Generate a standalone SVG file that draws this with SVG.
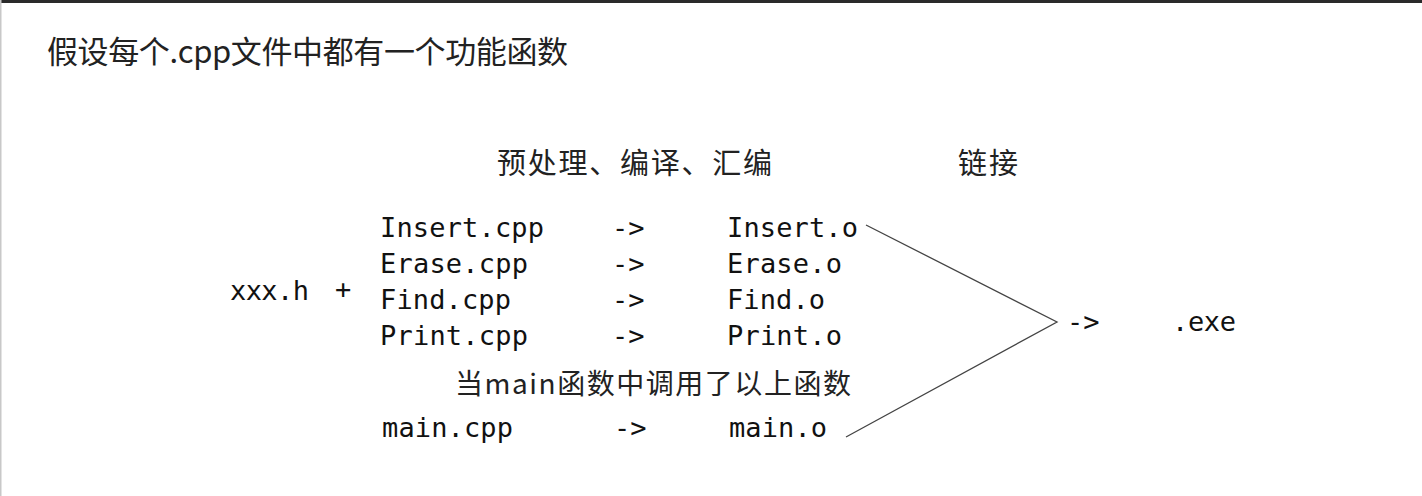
<svg xmlns="http://www.w3.org/2000/svg" width="1422" height="496" viewBox="0 0 1422 496">
<style>
.cjk{font-family:"Noto Sans CJK SC","Noto Sans",sans-serif;fill:#222;font-weight:400}
.mono{font-family:"DejaVu Sans Mono","Liberation Mono",monospace;font-size:27px;fill:#111}
.conn{stroke:#444;stroke-width:1.3;fill:none}
</style>
<rect x="0" y="0" width="1422" height="496" fill="#fff"/>
<rect x="0" y="0" width="1422" height="3" fill="#2a2a2a"/>
<rect x="0" y="0" width="1.5" height="496" fill="#c8c8c8"/>
<g id="title"><text class="cjk" x="47" y="63" font-size="31" textLength="521" lengthAdjust="spacing">假设每个.cpp文件中都有一个功能函数</text></g>
<g id="stage-compile"><text class="cjk" x="497" y="174" font-size="29" textLength="275" lengthAdjust="spacing">预处理、编译、汇编</text></g>
<g id="stage-link"><text class="cjk" x="958" y="174" font-size="29" textLength="60" lengthAdjust="spacing">链接</text></g>
<g id="header"><text class="mono" x="230" y="300" textLength="79" lengthAdjust="spacing">xxx.h</text><text class="mono" x="335" y="298">+</text></g>
<g id="insert"><text class="mono" x="380" y="237" textLength="164" lengthAdjust="spacing">Insert.cpp</text><text class="mono" x="612" y="237">-&gt;</text><text class="mono" x="727" y="237" textLength="131" lengthAdjust="spacing">Insert.o</text></g>
<g id="erase"><text class="mono" x="380" y="273" textLength="148" lengthAdjust="spacing">Erase.cpp</text><text class="mono" x="612" y="273">-&gt;</text><text class="mono" x="727" y="273" textLength="115" lengthAdjust="spacing">Erase.o</text></g>
<g id="find"><text class="mono" x="380" y="309" textLength="131" lengthAdjust="spacing">Find.cpp</text><text class="mono" x="612" y="309">-&gt;</text><text class="mono" x="727" y="309" textLength="98" lengthAdjust="spacing">Find.o</text></g>
<g id="print"><text class="mono" x="380" y="345" textLength="148" lengthAdjust="spacing">Print.cpp</text><text class="mono" x="612" y="345">-&gt;</text><text class="mono" x="727" y="345" textLength="115" lengthAdjust="spacing">Print.o</text></g>
<g id="note"><text class="cjk" x="455" y="394" font-size="28" textLength="396" lengthAdjust="spacing">当main函数中调用了以上函数</text></g>
<g id="main"><text class="mono" x="382" y="437" textLength="131" lengthAdjust="spacing">main.cpp</text><text class="mono" x="614" y="437">-&gt;</text><text class="mono" x="729" y="437" textLength="98" lengthAdjust="spacing">main.o</text></g>
<g id="link-arrow"><text class="mono" x="1067" y="331">-&gt;</text></g>
<g id="exe"><text class="mono" x="1172" y="331" textLength="64" lengthAdjust="spacing">.exe</text></g>
<g id="connectors">
<polyline class="conn" points="866,225 1057,322 846,437"/>
</g>
</svg>
